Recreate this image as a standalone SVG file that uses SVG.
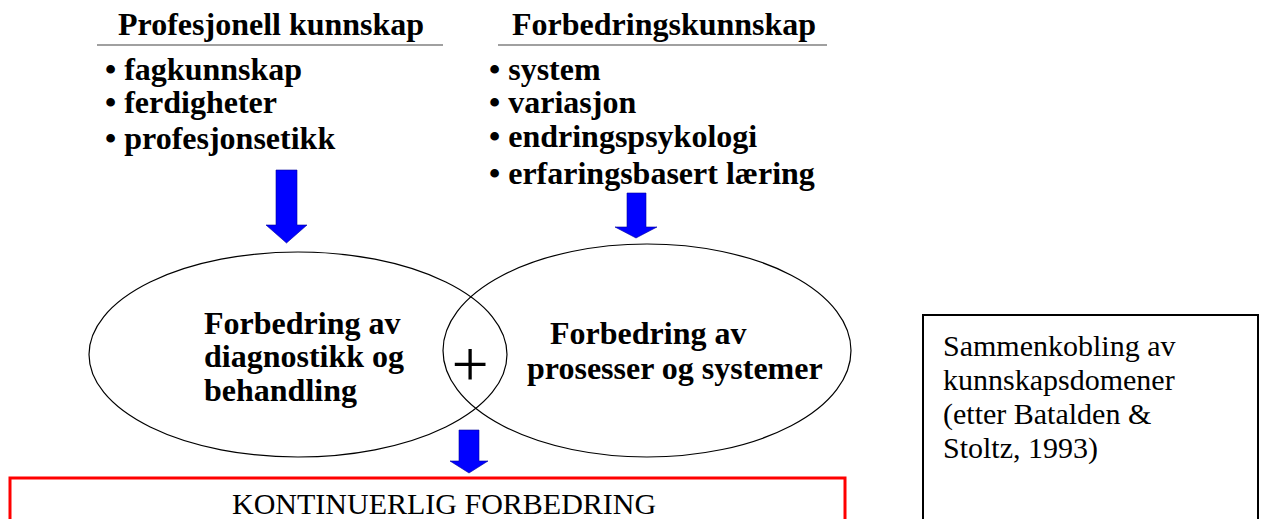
<svg xmlns="http://www.w3.org/2000/svg" width="1263" height="519" viewBox="0 0 1263 519">
  <style>
    .b { font-family: "Liberation Serif", "Times New Roman", serif; font-weight: bold; font-size: 32px; fill: #000; }
    .r { font-family: "Liberation Serif", "Times New Roman", serif; font-size: 30px; fill: #000; }
    .rule { stroke: #808080; stroke-width: 1.5; }
    .arrow { fill: #0000FF; stroke: #00009a; stroke-width: 0.6; }
    .ell { fill: none; stroke: #000; stroke-width: 1.2; }
  </style>
  <rect width="1263" height="519" fill="#fff"/>

  <g id="prof-kunnskap">
    <text class="b" x="118" y="35">Profesjonell kunnskap</text>
    <line class="rule" x1="97" y1="45" x2="443" y2="45"/>
    <text class="b" x="105" y="80">• fagkunnskap</text>
    <text class="b" x="105" y="113">• ferdigheter</text>
    <text class="b" x="105" y="149">• profesjonsetikk</text>
  </g>

  <g id="forb-kunnskap">
    <text class="b" x="512" y="35">Forbedringskunnskap</text>
    <line class="rule" x1="498" y1="45" x2="827" y2="45"/>
    <text class="b" x="489" y="80">• system</text>
    <text class="b" x="489" y="113">• variasjon</text>
    <text class="b" x="489" y="147">• endringspsykologi</text>
    <text class="b" x="489" y="184">• erfaringsbasert læring</text>
  </g>

  <g id="ellipse-left">
    <ellipse class="ell" cx="298" cy="354.5" rx="209" ry="102.5"/>
    <text class="b" x="204" y="334">Forbedring av</text>
    <text class="b" x="204" y="367">diagnostikk og</text>
    <text class="b" x="204" y="401">behandling</text>
  </g>

  <g id="ellipse-right">
    <ellipse class="ell" cx="647" cy="350.5" rx="204" ry="106.5"/>
    <text class="b" x="550" y="344">Forbedring av</text>
    <text class="b" x="527" y="379">prosesser og systemer</text>
  </g>

  <g id="plus">
    <text x="470" y="386" text-anchor="middle" style="font-family: 'Liberation Serif', serif; font-size: 66px;">+</text>
  </g>

  <g id="result">
    <rect x="10" y="478" width="835" height="60" fill="none" stroke="#FF0000" stroke-width="3"/>
    <text class="r" x="232" y="514">KONTINUERLIG FORBEDRING</text>
  </g>

  <g id="note">
    <rect x="923" y="315" width="335" height="230" fill="none" stroke="#000" stroke-width="2"/>
    <text class="r" x="943" y="356">Sammenkobling av</text>
    <text class="r" x="943" y="390">kunnskapsdomener</text>
    <text class="r" x="943" y="424">(etter Batalden &amp;</text>
    <text class="r" x="943" y="458">Stoltz, 1993)</text>
  </g>

  <g id="connectors">
    <polygon class="arrow" points="276,170 297,170 297,225 307,225 286.5,243 266,225 276,225"/>
    <polygon class="arrow" points="627,193 646,193 646,227 657,227 636,238 615,227 627,227"/>
    <polygon class="arrow" points="459,430 479,430 479,461 488,461 469,473 450,461 459,461"/>
  </g>
</svg>
